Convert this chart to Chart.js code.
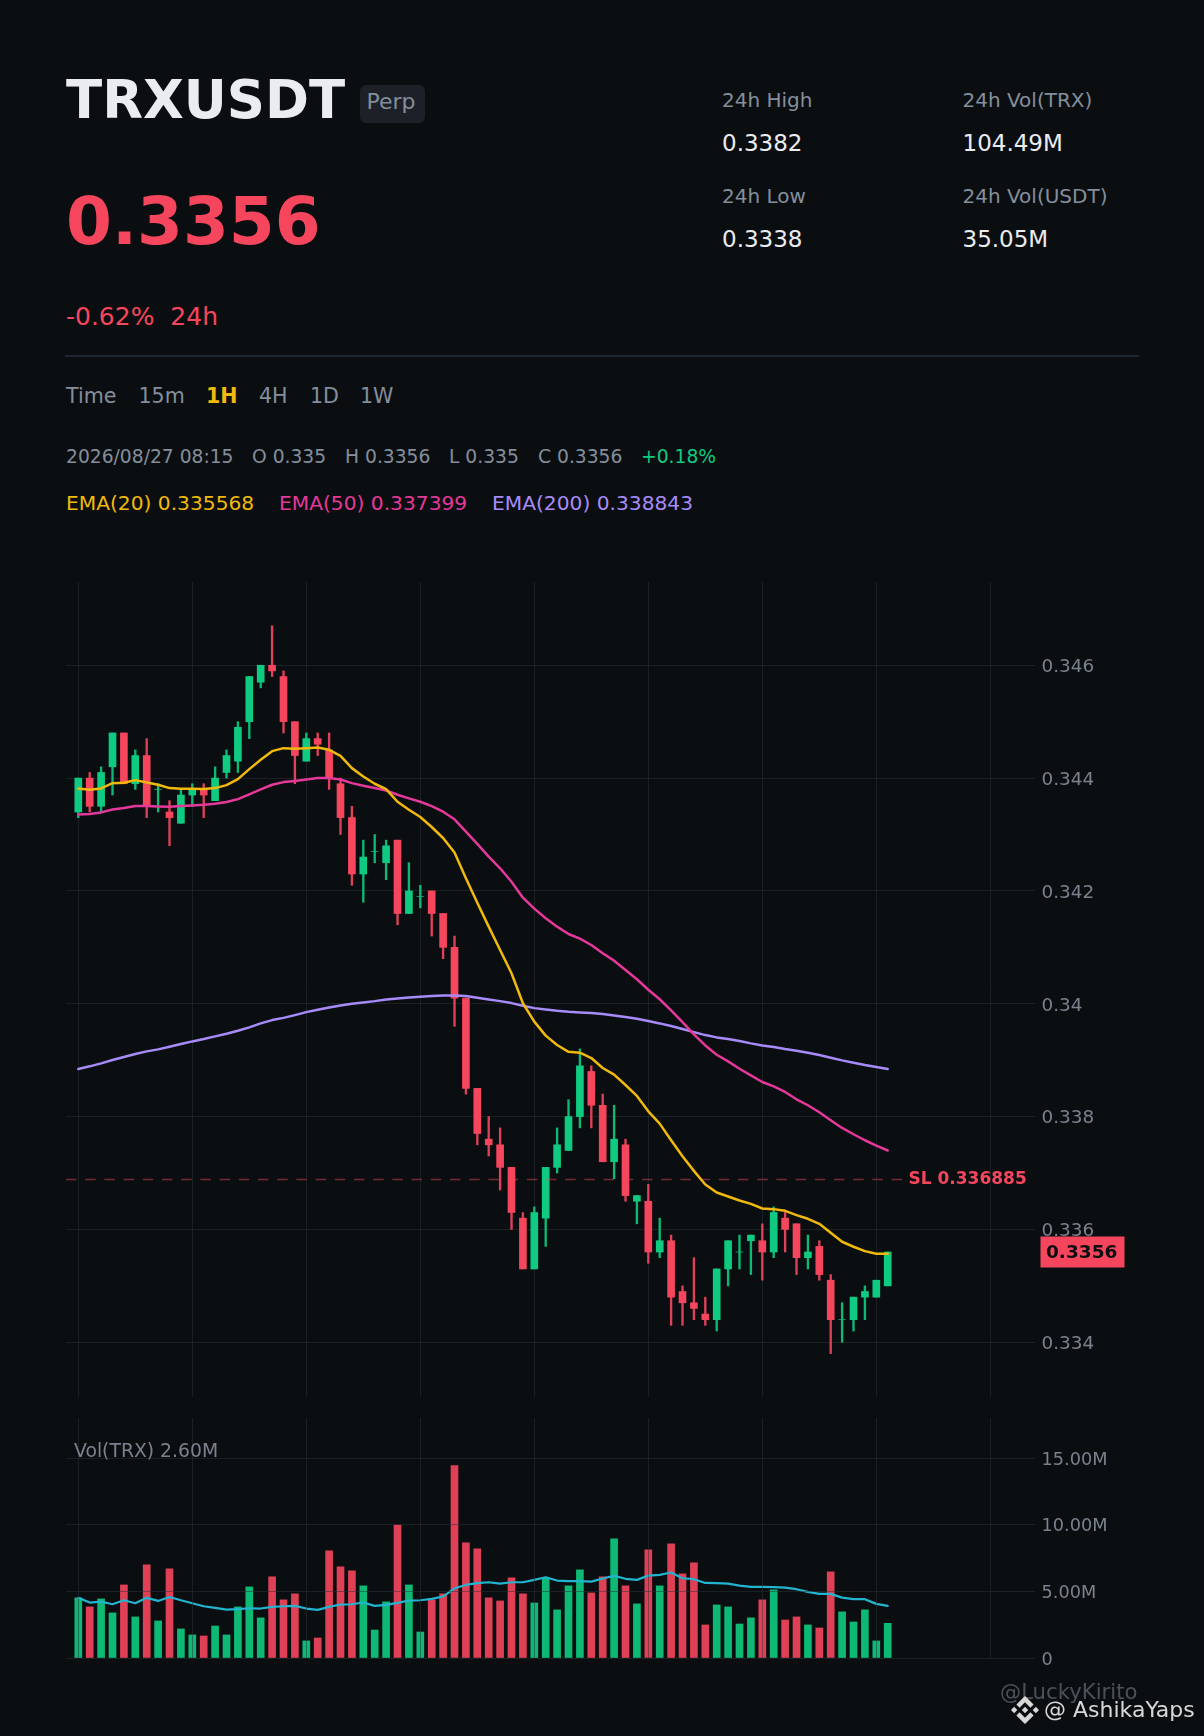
<!DOCTYPE html>
<html>
<head>
<meta charset="utf-8">
<script src="https://cdn.jsdelivr.net/npm/chart.js@4"></script>
<style>
html,body{margin:0;padding:0;background:#0b0e11;width:1204px;height:1736px;overflow:hidden;font-family:"DejaVu Sans",sans-serif}
.t{position:absolute;line-height:0;white-space:pre;top:calc(var(--b) - .346em)}
canvas{position:absolute;left:0;top:0}
.g{color:#848e9c}.d{color:#7a828e}.w{color:#eaecef}
</style>
</head>
<body>
<div class="t w" style="left:66px;--b:118px;font-size:53px;font-weight:700">TRXUSDT</div>
<div style="position:absolute;left:359.5px;top:85px;width:65.5px;height:38px;background:#1c2027;border-radius:6px"></div>
<div class="t g" style="left:366.5px;--b:110px;font-size:22px">Perp</div>
<div class="t" style="left:66px;--b:245px;font-size:66px;font-weight:700;color:#f6465d">0.3356</div>
<div class="t" style="left:66px;--b:325.6px;font-size:25px;color:#f6465d">-0.62%  24h</div>
<div style="position:absolute;left:65px;top:355px;width:1074px;height:1.5px;background:#1e2533"></div>

<div class="t g" style="left:722px;--b:107px;font-size:20px">24h High</div>
<div class="t w" style="left:722px;--b:151px;font-size:23px">0.3382</div>
<div class="t g" style="left:722px;--b:203px;font-size:20px">24h Low</div>
<div class="t w" style="left:722px;--b:246.6px;font-size:23px">0.3338</div>
<div class="t g" style="left:962.5px;--b:107px;font-size:20px">24h Vol(TRX)</div>
<div class="t w" style="left:962.5px;--b:151px;font-size:23px">104.49M</div>
<div class="t g" style="left:962.5px;--b:203px;font-size:20px">24h Vol(USDT)</div>
<div class="t w" style="left:962.5px;--b:246.6px;font-size:23px">35.05M</div>

<div class="t g" style="left:66px;--b:403.5px;font-size:20.6px">Time</div>
<div class="t g" style="left:138.5px;--b:403.5px;font-size:20.6px">15m</div>
<div class="t" style="left:206px;--b:403.5px;font-size:20.6px;font-weight:700;color:#f0b90b">1H</div>
<div class="t g" style="left:259px;--b:403.5px;font-size:20.6px">4H</div>
<div class="t g" style="left:310px;--b:403.5px;font-size:20.6px">1D</div>
<div class="t g" style="left:360px;--b:403.5px;font-size:20.6px">1W</div>

<div class="t g" style="left:66px;--b:463px;font-size:18.7px">2026/08/27 08:15</div>
<div class="t g" style="left:252px;--b:463px;font-size:18.7px">O 0.335</div>
<div class="t g" style="left:345px;--b:463px;font-size:18.7px">H 0.3356</div>
<div class="t g" style="left:449px;--b:463px;font-size:18.7px">L 0.335</div>
<div class="t g" style="left:538px;--b:463px;font-size:18.7px">C 0.3356</div>
<div class="t" style="left:641px;--b:463px;font-size:18.7px;color:#0ecb81">+0.18%</div>

<div class="t" style="left:66px;--b:510.3px;font-size:20.2px;color:#f0b90b">EMA(20) 0.335568</div>
<div class="t" style="left:279px;--b:510.3px;font-size:20.2px;color:#e5389b">EMA(50) 0.337399</div>
<div class="t" style="left:492px;--b:510.3px;font-size:20.2px;color:#a78bfa">EMA(200) 0.338843</div>

<canvas id="price" width="1204" height="1450"></canvas>
<canvas id="vol" width="1204" height="1736"></canvas>

<div class="t d" style="left:74px;--b:1457.5px;font-size:18.8px">Vol(TRX) 2.60M</div>
<div class="t" style="left:1000px;--b:1699px;font-size:21.2px;color:#4b5158">@LuckyKirito</div>
<svg style="position:absolute;left:1011px;top:1696px" width="28" height="28" viewBox="0 0 32 32"><path fill="#d8d8d8" d="M9.79 13.45 16 7.24l6.21 6.22 3.61-3.61L16 0 6.18 9.82l3.61 3.63zM0 16l3.61-3.61L7.22 16l-3.61 3.61zm9.79 2.55L16 24.76l6.21-6.22 3.62 3.61L16 32 6.18 22.18l3.61-3.63zm15-2.55 3.61-3.61L32 16l-3.61 3.61zM19.66 16 16 12.34 12.34 16 16 19.66 19.66 16z"/></svg>
<div class="t" style="left:1044px;--b:1718px;font-size:22px;color:#d8d8d8">@ AshikaYaps</div>

<script>
const open = [.3434,.3440,.3435,.3442,.3448,.3439,.3444,.3438,.3434,.3432,
  .3437,.3438,.3436,.3441,.3443,.3450,.3457,.3460,.3458,.3450,
  .3443,.3447,.3445,.3439,.3433,.3423,.3427,.3425,.3429,.3416,
  .3419,.3420,.3416,.3410,.3401,.3385,.3376,.3375,.3371,.3362,
  .3353,.3362,.3371,.3374,.3380,.3388,.3382,.3372,.3375,.3365,
  .3365,.3356,.3358,.3349,.3347,.3345,.3344,.3353,.3356,.3358,
  .3358,.3356,.3362,.3361,.3355,.3357,.3351,.3344,.3344,.3348,.3348,.3350];
const close = [.3440,.3435,.3441,.3448,.3439,.3444,.3435,.3438,.3433,.3437,
  .3438,.3437,.3440,.3444,.3449,.3458,.3460,.3459,.3450,.3444,
  .3447,.3446,.3440,.3433,.3423,.3426,.3427,.3428,.3416,.3420,
  .3419,.3416,.3410,.3401,.3385,.3377,.3375,.3371,.3363,.3353,
  .3363,.3371,.3375,.3380,.3389,.3382,.3372,.3376,.3366,.3366,
  .3356,.3358,.3348,.3347,.3346,.3344,.3353,.3358,.3356,.3359,
  .3356,.3363,.3360,.3355,.3356,.3352,.3344,.3344,.3348,.3349,.3351,.3356];
const high = [.3440,.3441,.3442,.3448,.3448,.3445,.3447,.3439,.3436,.3438,
  .3439,.3439,.3442,.3445,.3450,.3458,.3460,.3467,.3459,.3450,
  .3448,.3448,.3448,.3440,.3435,.3429,.3430,.3429,.3429,.3425,
  .3421,.3420,.3416,.3412,.3401,.3385,.3380,.3378,.3371,.3363,
  .3364,.3371,.3378,.3383,.3392,.3389,.3384,.3382,.3376,.3366,
  .3368,.3362,.3359,.3350,.3355,.3348,.3353,.3358,.3359,.3359,
  .3361,.3364,.3363,.3361,.3359,.3358,.3352,.3347,.3348,.3350,.3351,.3356];
const low = [.3433,.3434,.3434,.3437,.3439,.3438,.3433,.3434,.3428,.3432,
  .3435,.3433,.3436,.3440,.3441,.3447,.3456,.3458,.3448,.3439,
  .3443,.3444,.3438,.3430,.3421,.3418,.3425,.3422,.3414,.3416,
  .3417,.3412,.3408,.3396,.3384,.3375,.3373,.3367,.3360,.3353,
  .3353,.3357,.3370,.3374,.3378,.3378,.3372,.3369,.3365,.3361,
  .3354,.3355,.3343,.3343,.3344,.3343,.3342,.3350,.3353,.3352,
  .3351,.3355,.3356,.3352,.3353,.3351,.3338,.3340,.3342,.3344,.3348,.3350];
const ema20 = [.343817,.343793,.343817,.343911,.343917,.343964,.343923,.343882,.343823,.343811,
  .343811,.343805,.343823,.343876,.343982,.344159,.344324,.344478,.344531,.344519,
  .344531,.344543,.344501,.344395,.344177,.344029,.343900,.343805,.343581,.343439,
  .343310,.343133,.342938,.342680,.342224,.341792,.341367,.340954,.340540,.340009,
  .339683,.339435,.339270,.339148,.339133,.339038,.338861,.338743,.338560,.338366,
  .338094,.337876,.337581,.337298,.337038,.336796,.336655,.336584,.336513,.336454,
  .336371,.336360,.336330,.336253,.336189,.336100,.335941,.335782,.335693,.335616,.335570,.335568];
const ema50 = [.343357,.343363,.343392,.343445,.343469,.343504,.343504,.343498,.343492,.343504,
  .343516,.343528,.343546,.343575,.343628,.343711,.343799,.343882,.343929,.343947,
  .343976,.344000,.344000,.343976,.343911,.343864,.343823,.343782,.343705,.343640,
  .343581,.343504,.343404,.343270,.343051,.342833,.342607,.342402,.342164,.341880,
  .341686,.341515,.341367,.341237,.341154,.341042,.340895,.340764,.340599,.340434,
  .340248,.340080,.339882,.339675,.339457,.339262,.339097,.338979,.338849,.338731,
  .338614,.338537,.338437,.338307,.338201,.338077,.337935,.337799,.337687,.337581,.337487,.337399];
const ema200 = [.338844,.338891,.338944,.339003,.339056,.339109,.339156,.339192,.339239,.339286,
  .339333,.339375,.339422,.339469,.339522,.339581,.339652,.339711,.339750,.339799,
  .339852,.339894,.339935,.339970,.340000,.340024,.340047,.340077,.340094,.340112,
  .340124,.340136,.340148,.340148,.340136,.340106,.340077,.340047,.340012,.339965,
  .339923,.339900,.339876,.339858,.339847,.339835,.339817,.339793,.339764,.339734,
  .339693,.339652,.339605,.339552,.339498,.339445,.339404,.339375,.339339,.339298,
  .339262,.339233,.339198,.339168,.339133,.339091,.339044,.338997,.338956,.338914,.338879,.338843];
const volumeM = [4.51,3.83,4.43,3.38,5.48,3.08,6.99,2.78,6.69,2.18,
  1.73,1.65,2.40,1.73,3.83,5.33,3.01,6.09,4.36,4.81,
  1.28,1.50,8.04,6.84,6.54,5.41,2.10,4.21,9.97,5.48,
  1.95,4.36,4.81,14.43,8.64,8.19,4.51,4.28,6.01,4.81,
  4.13,6.01,3.61,5.41,6.61,4.88,6.09,8.94,5.41,4.06,
  8.11,5.41,8.56,6.31,7.14,2.48,3.98,3.83,2.55,3.01,
  4.36,5.11,2.85,3.08,2.48,2.25,6.46,3.46,2.70,3.61,1.28,2.60];
const volMA = [4.51,4.16,4.23,4.03,4.33,4.11,4.51,4.28,4.58,4.33,
  4.11,3.88,3.76,3.63,3.66,3.73,3.71,3.83,3.88,3.91,
  3.71,3.61,3.83,4.01,4.03,4.16,3.91,3.98,4.13,4.31,
  4.33,4.43,4.61,5.23,5.48,5.61,5.68,5.58,5.68,5.68,
  5.86,6.06,5.81,5.76,5.76,5.73,5.96,6.16,5.94,5.86,
  6.18,6.23,6.41,5.98,5.91,5.63,5.61,5.58,5.43,5.33,
  5.33,5.31,5.28,5.16,4.96,4.81,4.81,4.53,4.41,4.41,4.06,3.91];
const priceTicks = [.334,.336,.338,.340,.342,.344,.346];
const volumeTicks = [0,5,10,15];
const timeTicks = [0,10,20,30,40,50,60,70,80];
const stopLoss = .336885;
const lastPrice = .3356;

const UP = '#0ecb81', DOWN = '#f6465d';
const GRID = 'rgba(43,49,57,.5)', TICK = '#7a828e';
const XMIN = -1.079, XMAX = 83.92, SLEND = 72.4;
const up = open.map((o,i)=>close[i]>=o);
const candleColor = up.map(u=>u?UP:DOWN);
const wickColor = up.map(u=>u?'#0cba76':'#e0405a');
const volColor = up.map(u=>u?'rgba(14,203,129,.9)':'rgba(246,70,93,.9)');
const pts = a => a.map((y,i)=>({x:i,y}));
const ranges = (a,b) => a.map((v,i)=>({x:i,y:[v,b[i]]}));
const lineDs = (data,color,order,width=2.5)=>({type:'line',data:pts(data),borderColor:color,borderWidth:width,pointRadius:0,tension:0,order,borderJoinStyle:'round',borderCapStyle:'round'});
const xAxis = () => ({type:'linear',min:XMIN,max:XMAX,offset:false,
  grid:{color:GRID,drawTicks:false,offset:false},border:{display:false},ticks:{display:false},
  afterBuildTicks:s=>{s.ticks=timeTicks.map(value=>({value}));},
  afterFit:s=>{s.height=0;}});
// An empty first line with a small line height sets each tick label just below the axis's own middle line.
const yAxis = (min,max,ticks,cb,z,size) => ({position:'right',min,max,
  grid:{color:GRID,drawTicks:false,z},border:{display:false},
  ticks:{color:TICK,font:{family:'DejaVu Sans',size,lineHeight:'4px'},padding:6.5,crossAlign:'near',callback:v=>['',cb(v)],autoSkip:false,maxRotation:0},
  afterBuildTicks:s=>{s.ticks=ticks.map(value=>({value}));},
  afterFit:s=>{s.width=169;}});

const annotate = {id:'annotate',afterDraw(chart){
  const {ctx,scales:{y}} = chart;
  ctx.save();
  ctx.textBaseline='alphabetic';ctx.textAlign='left';
  ctx.font='700 17px "DejaVu Sans"';ctx.fillStyle='#f6465d';
  ctx.fillText('SL '+stopLoss,908.5,y.getPixelForValue(stopLoss)+4);
  const py = y.getPixelForValue(lastPrice);
  ctx.fillStyle='#f6465d';ctx.fillRect(1040.5,py-15.5,84,31);
  ctx.font='700 18.5px "DejaVu Sans"';ctx.fillStyle='#0b0e11';
  ctx.fillText(lastPrice.toString(),1046,py+6);
  ctx.restore();
}};

new Chart(document.getElementById('price'),{
  type:'bar',
  data:{datasets:[
    {label:'wick',data:ranges(low,high),backgroundColor:wickColor,barThickness:1.7,order:6},
    {label:'body',data:ranges(open,close),backgroundColor:candleColor,barThickness:7,order:5},
    {...lineDs(ema200,'#a78bfa',3),label:'EMA200'},
    {...lineDs(ema50,'#e5389b',2),label:'EMA50'},
    {...lineDs(ema20,'#f0b90b',1),label:'EMA20'},
    {type:'line',label:'SL',data:[{x:XMIN,y:stopLoss},{x:SLEND,y:stopLoss}],borderColor:'rgba(246,70,93,.45)',borderWidth:1.5,borderDash:[10.5,8.7],pointRadius:0,order:4}
  ]},
  options:{responsive:false,animation:false,devicePixelRatio:1,
    layout:{padding:{left:66,top:582,bottom:53,right:0}},
    plugins:{legend:{display:false},tooltip:{enabled:false}},
    datasets:{bar:{grouped:false,borderWidth:0}},
    scales:{x:xAxis(),y:yAxis(.333030,.347476,priceTicks,v=>v.toString(),-1,18.4)}
  },
  plugins:[annotate]
});

new Chart(document.getElementById('vol'),{
  type:'bar',
  data:{datasets:[
    {label:'Vol',data:pts(volumeM),backgroundColor:volColor,barThickness:7,order:2},
    {...lineDs(volMA,'#22b5d0',1,2.2),label:'MA'}
  ]},
  options:{responsive:false,animation:false,devicePixelRatio:1,
    layout:{padding:{left:66,top:1418,bottom:78,right:0}},
    plugins:{legend:{display:false},tooltip:{enabled:false}},
    datasets:{bar:{grouped:false,borderWidth:0}},
    scales:{
      x:(()=>{const a=xAxis();a.grid.z=1;return a;})(),
      y:yAxis(0,18,volumeTicks,v=>v===0?'0':v.toFixed(2)+'M',1,17.7)
    }
  }
});
</script>
</body>
</html>
